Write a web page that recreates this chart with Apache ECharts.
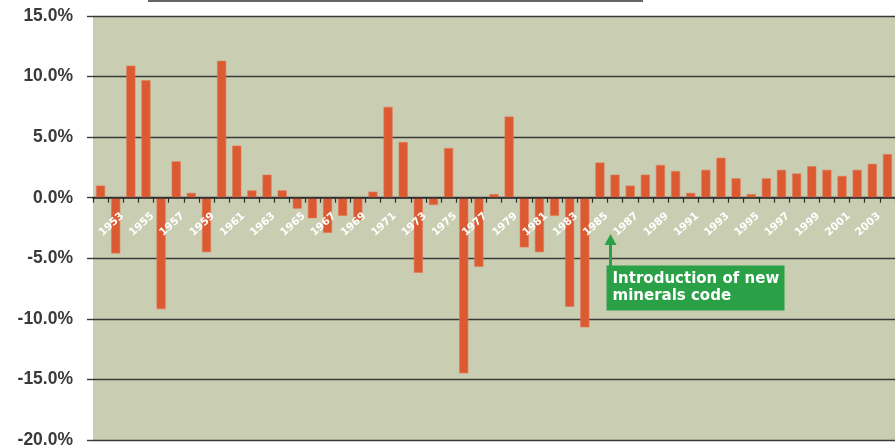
<!DOCTYPE html>
<html>
<head>
<meta charset="utf-8">
<script src="https://cdn.jsdelivr.net/npm/echarts@6/dist/echarts.min.js"></script>
<style>
html,body{margin:0;padding:0;background:#fff;}
#c{width:895px;height:448px;}
</style>
</head>
<body>
<div id="c"></div>
<script>
var years = [];
for (var y = 1952; y <= 2004; y++) years.push(String(y));

var growth = [
  1.0, -4.6, 10.9, 9.7, -9.2, 3.0, 0.4, -4.5, 11.3, 4.3,
  0.6, 1.9, 0.6, -0.9, -1.7, -2.9, -1.5, -1.9, 0.5, 7.5,
  4.6, -6.2, -0.6, 4.1, -14.5, -5.7, 0.3, 6.7, -4.1, -4.5,
  -1.5, -9.0, -10.7, 2.9, 1.9, 1.0, 1.9, 2.7, 2.2, 0.4,
  2.3, 3.3, 1.6, 0.3, 1.6, 2.3, 2.0, 2.6, 2.3, 1.8,
  2.3, 2.8, 3.6
];

var yTicks = { min: -20, max: 15, interval: 5 };
var noteLines = ['Introduction of new', 'minerals code'];
var noteYear = '1985';

var chart = echarts.init(document.getElementById('c'), null, { renderer: 'canvas' });

chart.setOption({
  animation: false,
  grid: {
    left: 93, right: 0, top: 16, bottom: 8,
    containLabel: false,
    outerBoundsMode: 'none',
    show: true, backgroundColor: '#c9cdb1', borderWidth: 0
  },
  xAxis: {
    type: 'category',
    data: years,
    position: 'bottom',
    z: 10,
    axisLine: { onZero: false, lineStyle: { color: '#2e2e2e', width: 1.5 } },
    axisTick: { show: true, interval: 0, length: 5, lineStyle: { color: '#2e2e2e', width: 1.2 } },
    axisLabel: {
      show: true,
      interval: function (idx) { return idx % 2 === 1; },
      rotate: 42,
      margin: 23,
      padding: [0, -9, 0, 0],
      color: '#ffffff',
      fontFamily: 'DejaVu Sans',
      fontWeight: 'bold',
      fontSize: 10.5
    },
    splitLine: { show: false }
  },
  yAxis: {
    type: 'value',
    min: yTicks.min, max: yTicks.max, interval: yTicks.interval,
    axisLine: { show: false },
    axisTick: { show: true, length: 6, lineStyle: { color: '#3a3a3a', width: 1.4 } },
    axisLabel: {
      margin: 20,
      color: '#3a3a3a',
      fontFamily: 'Liberation Sans',
      fontWeight: 'bold',
      fontSize: 17.5,
      formatter: function (v) { return v.toFixed(1) + '%'; }
    },
    splitLine: { show: true, lineStyle: { color: '#3a3a3a', width: 1.4 } }
  },
  series: [{
    type: 'bar',
    data: growth,
    barWidth: '60%',
    itemStyle: { color: '#dc5a32', borderColor: '#e27a58', borderWidth: 0.6 }
  }]
});

// move the category axis (line, ticks, labels) up to the zero line
var zeroPx = chart.convertToPixel({ yAxisIndex: 0 }, 0);
var minPx = chart.convertToPixel({ yAxisIndex: 0 }, yTicks.min);
chart.setOption({ xAxis: { offset: -(minPx - zeroPx) } });

function drawNote() {
  var i = years.indexOf(noteYear);
  var p0 = chart.convertToPixel({ xAxisIndex: 0, yAxisIndex: 0 }, [i, -3.0]);
  var p1 = chart.convertToPixel({ xAxisIndex: 0, yAxisIndex: 0 }, [i + 1, -5.6]);
  var pb = chart.convertToPixel({ xAxisIndex: 0, yAxisIndex: 0 }, [i + 1, -9.3]);
  var ax = (p0[0] * 0.3 + p1[0] * 0.7);
  var tipY = p0[1];
  var boxTop = p1[1];
  var boxBottom = pb[1];
  var green = '#2aa147';
  chart.setOption({
    graphic: [
      {
        type: 'line', silent: true,
        shape: { x1: 148, y1: 1, x2: 643, y2: 1 },
        style: { stroke: '#333', lineWidth: 1.5 }
      },
      {
        type: 'polygon', silent: true, z: 20,
        shape: { points: [[ax, tipY], [ax - 6, tipY + 11], [ax + 6, tipY + 11]] },
        style: { fill: green }
      },
      {
        type: 'rect', silent: true, z: 20,
        shape: { x: ax - 1.5, y: tipY + 10, width: 3, height: boxTop - tipY - 9 },
        style: { fill: green }
      },
      {
        type: 'rect', silent: true, z: 20,
        shape: { x: ax - 4, y: boxTop, width: 178, height: boxBottom - boxTop },
        style: { fill: green }
      },
      {
        type: 'text', silent: true, z: 21,
        x: ax + 2, y: boxTop + 5,
        style: {
          text: noteLines.join('\n'),
          fill: '#ffffff',
          font: 'bold 15px "DejaVu Sans"',
          lineHeight: 17,
          verticalAlign: 'top',
          align: 'left'
        }
      }
    ]
  });
}
drawNote();
</script>
</body>
</html>
